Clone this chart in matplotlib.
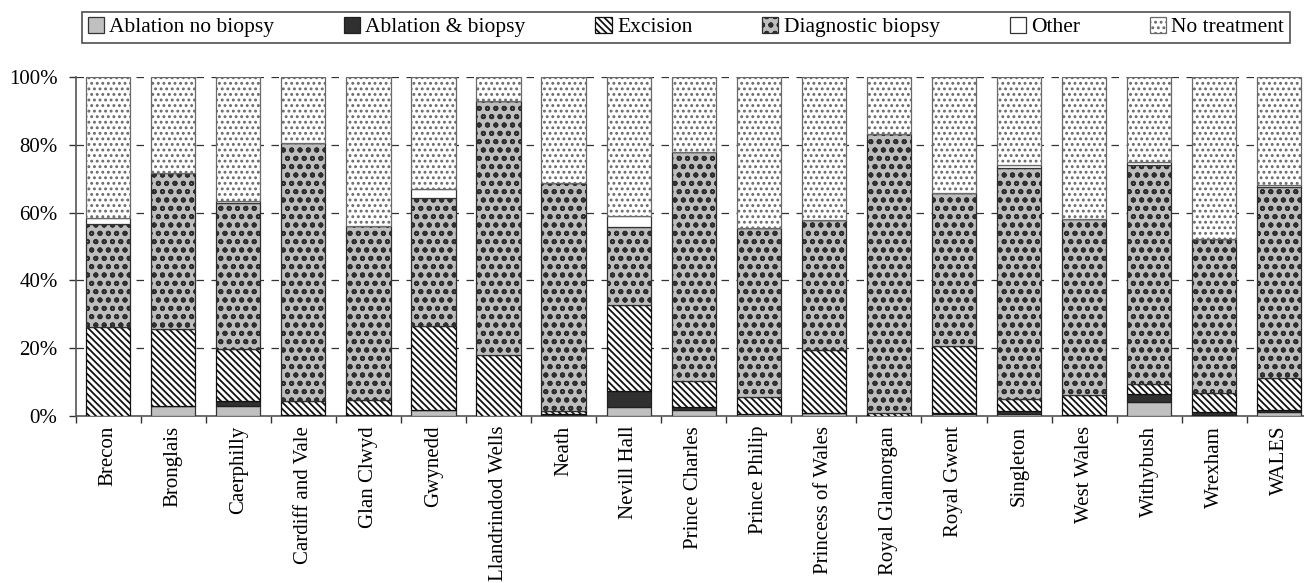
import matplotlib
matplotlib.use("Agg")
import matplotlib.pyplot as plt
import numpy as np

categories = ["Brecon", "Bronglais", "Caerphilly", "Cardiff and Vale", "Glan Clwyd",
              "Gwynedd", "Llandrindod Wells", "Neath", "Nevill Hall", "Prince Charles",
              "Prince Philip", "Princess of Wales", "Royal Glamorgan", "Royal Gwent",
              "Singleton", "West Wales", "Withybush", "Wrexham", "WALES"]

ablation_no_biopsy = [0, 3.1, 3.0, 0.3, 0.3, 1.7, 0, 0, 2.8, 1.8, 0.5, 0.8, 0, 0.5, 0.5, 0.3, 4.2, 0.3, 1.1]
ablation_biopsy = [0, 0, 1.4, 0, 0, 0, 0, 0.5, 4.6, 0.8, 0, 0, 0, 0.5, 1.0, 0, 2.3, 1.0, 0.7]
excision = [26.3, 22.5, 15.3, 4.2, 4.5, 24.9, 17.9, 1.1, 25.3, 7.7, 5.2, 18.7, 0.8, 19.6, 3.6, 5.8, 3.0, 5.4, 9.3]
diagnostic_biopsy = [30.3, 46.0, 43.0, 76.0, 51.4, 37.8, 75.1, 67.0, 23.1, 67.7, 49.8, 38.3, 82.5, 45.2, 68.1, 51.9, 64.5, 45.4, 56.5]
other = [1.9, 0, 0.7, 0, 0, 2.7, 0, 0, 3.1, 0, 0, 0, 0, 0, 0.8, 0, 0.8, 0, 0.4]
no_treatment = [41.5, 28.4, 36.6, 19.5, 43.8, 32.9, 7.0, 31.4, 41.1, 22.0, 44.5, 42.2, 16.7, 34.2, 26.0, 42.0, 25.2, 47.9, 32.0]

series_labels = ["Ablation no biopsy", "Ablation & biopsy", "Excision",
                 "Diagnostic biopsy", "Other", "No treatment"]

plt.rcParams['font.family'] = ['Liberation Serif', 'DejaVu Serif']
plt.rcParams['hatch.linewidth'] = 1.3

fig = plt.figure(figsize=(13.04, 5.83), dpi=100)
ax = fig.add_axes([0.058, 0.2864, 0.948, 0.5815])

series = [ablation_no_biopsy, ablation_biopsy, excision, diagnostic_biopsy, other, no_treatment]
styles = [
    dict(facecolor="#c0c0c0", edgecolor="#333333", hatch=None),
    dict(facecolor="#303030", edgecolor="#202020", hatch=None),
    dict(facecolor="white", edgecolor="#111111", hatch="\\" * 5),
    dict(facecolor="#bdbdbd", edgecolor="#2e2e2e", hatch="oo"),
    dict(facecolor="white", edgecolor="#333333", hatch=None),
    dict(facecolor="white", edgecolor="#6a6a6a", hatch="..."),
]

x = np.arange(len(categories))
bottom = np.zeros(len(categories))
handles = []
for vals, lab, st in zip(series, series_labels, styles):
    v = np.array(vals, dtype=float)
    b = ax.bar(x, v, width=0.68, bottom=bottom, label=lab, linewidth=0.9,
               zorder=3, **st)
    handles.append(b)
    bottom += v

ax.set_xlim(-0.5, len(categories) - 0.5)
ax.set_ylim(0, 100)
ax.set_yticks([0, 20, 40, 60, 80, 100])
ax.set_yticklabels(["0%", "20%", "40%", "60%", "80%", "100%"], fontsize=15)
ax.yaxis.grid(True, linestyle=(0, (6, 6)), color="#333333", linewidth=0.9, zorder=0)
ax.set_axisbelow(True)

ax.set_xticks(x)
ax.set_xticklabels(categories, rotation=90, fontsize=15)
ax.tick_params(axis="x", which="major", length=0, pad=7)
ax.set_xticks(np.arange(len(categories) + 1) - 0.5, minor=True)
ax.tick_params(axis="x", which="minor", length=5, width=1, color="#333333")
ax.tick_params(axis="y", length=5, width=1, color="#333333", pad=8)

for s in ["top", "right"]:
    ax.spines[s].set_visible(False)
for s in ["left", "bottom"]:
    ax.spines[s].set_color("#555555")
    ax.spines[s].set_linewidth(1.2)

leg = fig.legend(handles=handles, labels=series_labels, loc="center", ncol=6,
                 bbox_to_anchor=(0.063, 0.928, 0.926, 0.051), mode="expand",
                 prop=dict(family="Liberation Serif", size=15.5),
                 frameon=True, fancybox=False, handlelength=0.75,
                 handleheight=0.75, handletextpad=0.25, borderpad=0.25,
                 borderaxespad=0)
leg.get_frame().set_edgecolor("#222222")
leg.get_frame().set_linewidth(1.2)

fig.savefig("out.png", dpi=100)
